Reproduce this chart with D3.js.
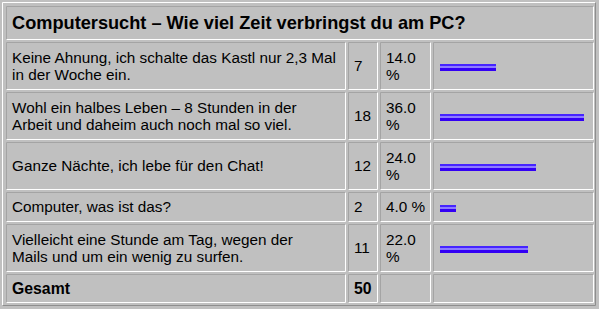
<!DOCTYPE html>
<html>
<head>
<meta charset="utf-8">
<script src="https://cdn.jsdelivr.net/npm/d3@7"></script>
<style>
html,body{margin:0;padding:0;background:#c0c0c0;overflow:hidden;}
svg text{font-family:"Liberation Sans",Arial,sans-serif;fill:#000;}
</style>
</head>
<body>
<div id="poll"></div>
<script>
const title = "Computersucht – Wie viel Zeit verbringst du am PC?";
/* answer texts, line breaks as in the picture */
const answers = [
    ["Keine Ahnung, ich schalte das Kastl nur 2,3 Mal", "in der Woche ein."],
    ["Wohl ein halbes Leben – 8 Stunden in der", "Arbeit und daheim auch noch mal so viel."],
    ["Ganze Nächte, ich lebe für den Chat!"],
    ["Computer, was ist das?"],
    ["Vielleicht eine Stunde am Tag, wegen der", "Mails und um ein wenig zu surfen."]
];
const votes = [7, 18, 12, 2, 11];
const shares = [14.0, 36.0, 24.0, 4.0, 22.0];
const totalLabel = "Gesamt";
const totalVotes = 50;

var W = 599, H = 309;
var colX = [6, 348, 380, 433], colW = [340, 30, 51, 161];
var pad = 6, lineH = 17.25, gap = 2, fs = 15.3;

var svg = d3.select("#poll").append("svg")
    .attr("width", W).attr("height", H);

var grad = svg.append("defs").append("linearGradient")
    .attr("id", "barfill").attr("x1", 0).attr("y1", 0).attr("x2", 0).attr("y2", 1);
[["0", "#4624ff"], ["0.28", "#4624ff"], ["0.28", "#8c7cff"], ["0.57", "#8c7cff"], ["0.57", "#3300f4"], ["1", "#3300f4"]]
    .forEach(function(s){ grad.append("stop").attr("offset", s[0]).attr("stop-color", s[1]); });

/* measure + wrap the percent strings like the narrow table cell does */
var probe = svg.append("text").attr("font-size", fs);
function textW(s){ probe.text(s); return probe.node().getComputedTextLength(); }
function wrap(s, maxW){
    var words = s.split(" "), lines = [], cur = "";
    words.forEach(function(w){
        var t = cur ? cur + " " + w : w;
        if (cur && textW(t) > maxW){ lines.push(cur); cur = w; } else { cur = t; }
    });
    lines.push(cur);
    return lines;
}
var fmt = d3.format(".1f");
var rows = answers.map(function(a, i){
    var pct = wrap(fmt(shares[i]) + " %", colW[2] - 2*pad + 2);
    return {label: a, n: votes[i], pct: pct, share: shares[i],
            lines: Math.max(a.length, pct.length)};
});
probe.remove();

var xBar = d3.scaleLinear().domain([0, 100]).range([0, 400]);

// outer table frame
var outer = svg.append("g");
outer.append("path").attr("d", "M2.5,305.5V2.5H595.5").attr("stroke", "#fff").attr("fill", "none");
outer.append("path").attr("d", "M2.5,305.5H595.5V2.5").attr("stroke", "#8e8e8e").attr("fill", "none");

function cell(x, y, w, h){
    var g = svg.append("g");
    g.append("rect").attr("x", x).attr("y", y).attr("width", w).attr("height", h).attr("fill", "#c0c0c0");
    g.append("path").attr("d", `M${x+0.5},${y+h}V${y+0.5}H${x+w}`).attr("stroke", "#a4a4a4").attr("fill", "none");
    g.append("path").attr("d", `M${x+0.5},${y+h-0.5}H${x+w-0.5}V${y+0.5}`).attr("stroke", "#fff").attr("fill", "none");
    return g;
}
function lines(g, arr, x, cy, size, bold){
    var t = g.append("text").attr("font-size", size).attr("font-weight", bold ? "bold" : "normal");
    arr.forEach(function(s, i){
        t.append("tspan").attr("x", x)
         .attr("y", cy + (i - (arr.length - 1)/2)*lineH + size*0.345)
         .text(s);
    });
}

// header
var y = 6, hh = 34;
var hg = cell(colX[0], y, colX[3] + colW[3] - colX[0], hh);
lines(hg, [title], colX[0] + pad, y + hh/2, 18.2, true);
y += hh + gap;

// answer rows
rows.forEach(function(r){
    var h = 12 + 18*r.lines, cy = y + h/2;
    lines(cell(colX[0], y, colW[0], h), r.label, colX[0] + pad, cy, fs);
    lines(cell(colX[1], y, colW[1], h), [String(r.n)], colX[1] + pad, cy, fs);
    lines(cell(colX[2], y, colW[2], h), r.pct, colX[2] + pad, cy, fs);
    cell(colX[3], y, colW[3], h).append("rect")
        .attr("x", colX[3] + 7).attr("y", cy - 2)
        .attr("width", xBar(r.share)).attr("height", 7)
        .attr("fill", "url(#barfill)");
    y += h + gap;
});

// total row
var th = 29, tcy = y + th/2;
lines(cell(colX[0], y, colW[0], th), [totalLabel], colX[0] + pad, tcy, 15.8, true);
lines(cell(colX[1], y, colW[1], th), [String(totalVotes)], colX[1] + pad, tcy, 15.8, true);
cell(colX[2], y, colW[2], th);
cell(colX[3], y, colW[3], th);
</script>
</body>
</html>
